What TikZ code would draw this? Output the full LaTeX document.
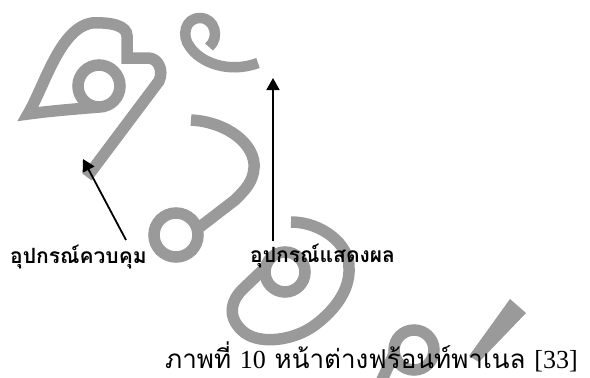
\documentclass[tikz,border=0pt]{standalone}
\usepackage{fontspec}
\newfontfamily\thaifont[Script=Thai]{Loma}
\newfontfamily\latinserif{Liberation Serif}
\usetikzlibrary{arrows.meta}
\definecolor{wmgray}{HTML}{9A9A9A}
\tikzset{
  wmark/.style={draw=wmgray, line width=11.5pt},
  partlabel/.style={anchor=base west, inner sep=0pt, font=\thaifont\bfseries\fontsize{21}{25}\selectfont},
  pointer/.style={-{Triangle[length=12pt,width=13pt]}, line width=1.8pt},
}

\begin{document}
\begin{tikzpicture}[x=1pt, y=-1pt]
  \useasboundingbox (0,0) rectangle (590,378);
  % watermark behind everything
  \begin{scope}
    \clip (0,0) rectangle (590,378);
    \draw[wmark] (99,86) circle[radius=21];
    \draw[wmark] (99,107) .. controls (75,109) and (50,111) .. (28,114)
      .. controls (45,85) and (60,28) .. (92,23)
      .. controls (112,22) and (127,26) .. (127,36) -- (127,58) -- (148,58)
      .. controls (158,58) and (164,70) .. (159,81) -- (87,177);
    \draw[wmark, line width=10.5pt] (209,47) .. controls (220,38) and (215,18) .. (200,18)
      .. controls (185,18) and (181,36) .. (190,47)
      .. controls (200,62) and (228,74) .. (258,63);
    \draw[wmark] (176,235) circle[radius=22];
    \draw[wmark] (191,120) .. controls (228,122) and (256,145) .. (254,168)
      .. controls (253,182) and (245,190) .. (235,200) -- (196,230);
    \draw[wmark] (285,272) circle[radius=20];
    \draw[wmark] (291,222) .. controls (322,222) and (350,245) .. (349,268)
      .. controls (350,290) and (335,310) .. (315,325)
      .. controls (295,340) and (262,345) .. (245,333)
      .. controls (228,320) and (228,302) .. (245,287) -- (267,266);
    \draw[wmark] (414,350) circle[radius=20];
    \draw[wmark] (380,384) -- (395,352);
    \fill[wmgray] (510,299) -- (526,313) -- (479,362) -- (469,356) -- cycle;
  \end{scope}

  % part labels
  \node[partlabel] (ctrl) at (10,263) {อุปกรณ์ควบคุม};
  \node[partlabel] (disp) at (250,262) {อุปกรณ์แสดงผล};

  % pointers
  \coordinate (ctrltail) at (126,240);
  \coordinate (ctrltip) at (83,159);
  \coordinate (disptail) at (273,241);
  \coordinate (disptip) at (273,78);
  \draw[pointer] (ctrltail) -- (ctrltip);
  \draw[pointer] (disptail) -- (disptip);

  % caption
  \node[anchor=base west, inner sep=0pt, font=\thaifont\fontsize{26}{30}\selectfont] (caption) at (165,368)
    {ภาพที่ {\latinserif 10} หน้าต่างฟร้อนท์พาเนล {\latinserif [33]}};
\end{tikzpicture}
\end{document}
